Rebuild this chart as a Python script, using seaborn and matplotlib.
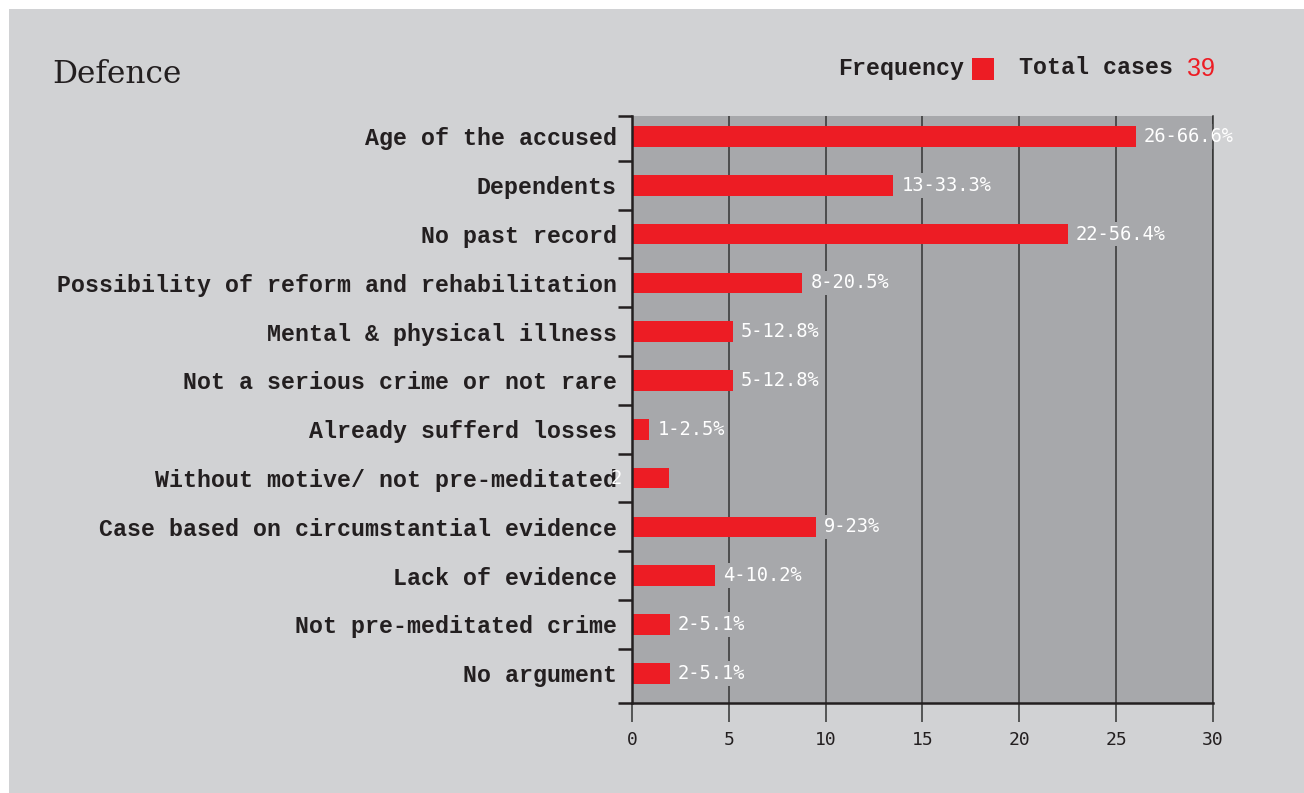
import matplotlib
matplotlib.use("Agg")
import matplotlib.pyplot as plt
import seaborn as sns
import pandas as pd
from matplotlib.patches import Rectangle

# ---------------- data ----------------
categories = [
    "Age of the accused",
    "Dependents",
    "No past record",
    "Possibility of reform and rehabilitation",
    "Mental & physical illness",
    "Not a serious crime or not rare",
    "Already sufferd losses",
    "Without motive/ not pre-meditated",
    "Case based on circumstantial evidence",
    "Lack of evidence",
    "Not pre-meditated crime",
    "No argument",
]
frequency = [26, 13.5, 22.5, 8.8, 5.2, 5.2, 0.9, 1.9, 9.5, 4.3, 1.95, 1.95]
value_labels = ["26-66.6%", "13-33.3%", "22-56.4%", "8-20.5%", "5-12.8%", "5-12.8%",
                "1-2.5%", "2", "9-23%", "4-10.2%", "2-5.1%", "2-5.1%"]
x_ticks = [0, 5, 10, 15, 20, 25, 30]
title = "Defence"
legend_label = "Frequency"
total_label = "Total cases"
total_cases = 39

# ---------------- style ----------------
BG = "#d1d2d4"
PLOT = "#a7a8ab"
RED = "#ed1c24"
INK = "#231f20"
GRID = "#333333"
MONO = "Liberation Mono"
LAB_SIZE = 16.75

W, H = 1304, 793
fig = plt.figure(figsize=(W / 100, H / 100), dpi=100, facecolor="white")
fig.patches.append(Rectangle((9 / W, 0), 1 - 9 / W, 1 - 9 / H, transform=fig.transFigure,
                             facecolor=BG, edgecolor="none", zorder=-10))

L, R, T, B = 632, 1213, 116, 703
ax = fig.add_axes([L / W, 1 - B / H, (R - L) / W, (B - T) / H])
ax.set_zorder(1)
ax.set_facecolor(PLOT)

df = pd.DataFrame({"category": categories, "frequency": frequency})
sns.barplot(data=df, x="frequency", y="category", orient="h", color=RED,
            saturation=1, width=0.424, linewidth=0, ax=ax, zorder=2)

ax.set_xlim(0, 30)
y_top, y_bot = -0.42, 11.61
ax.set_ylim(y_bot, y_top)
ax.set_xlabel("")
ax.set_ylabel("")

# spines
ax.spines["top"].set_visible(False)
ax.spines["left"].set_color(INK)
ax.spines["left"].set_linewidth(1.8)
ax.spines["bottom"].set_color(INK)
ax.spines["bottom"].set_linewidth(1.8)
ax.spines["right"].set_color(GRID)
ax.spines["right"].set_linewidth(1.1)
for s in ax.spines.values():
    s.set_zorder(5)

# grid
ax.set_xticks(x_ticks)
ax.grid(True, axis="x", color=GRID, linewidth=1.1)
ax.grid(False, axis="y")
ax.set_axisbelow("line")
ax.tick_params(axis="x", direction="out", length=14, width=1.1, color=GRID, pad=6,
               labelsize=13, labelcolor=INK)
for lab in ax.get_xticklabels():
    lab.set_fontfamily("DejaVu Sans Mono")

# y ticks: boundary marks (major) and category labels (minor)
bounds = [y_top] + [i + 0.5 for i in range(len(categories) - 1)] + [y_bot]
ax.set_yticks(bounds, labels=[""] * len(bounds))
ax.set_yticks(range(len(categories)), labels=categories, minor=True)
ax.tick_params(axis="y", which="major", direction="out", length=10, width=1.8, color=INK)
ax.tick_params(axis="y", which="minor", length=0, pad=11, labelsize=LAB_SIZE, labelcolor=INK)
for lab in ax.get_yticklabels(minor=True):
    lab.set_fontfamily(MONO)
    lab.set_fontweight("bold")

# value labels
for i, (v, txt) in enumerate(zip(frequency, value_labels)):
    if txt == "2":
        ax.text(-0.8, i, txt, ha="center", va="center", color="white",
                fontsize=13.5, family="DejaVu Sans Mono", clip_on=False, zorder=6)
        continue
    x = v + 0.41
    ax.text(x, i, txt, ha="left", va="center", color="none", fontsize=13.5,
            family="DejaVu Sans Mono", zorder=3, clip_on=True,
            bbox=dict(boxstyle="square,pad=0.15", fc=PLOT, ec="none"))
    ax.text(x, i, txt, ha="left", va="center", color="white", fontsize=13.5,
            family="DejaVu Sans Mono", zorder=6, clip_on=False)

# title
fig.text(52 / W, 1 - 83 / H, title, ha="left", va="baseline", fontsize=22.5,
         family="DejaVu Serif", color=INK)

# legend
fig.text(838 / W, 1 - 68 / H, legend_label, ha="left", va="center", fontsize=LAB_SIZE,
         family=MONO, fontweight="bold", color=INK)
fig.patches.append(Rectangle((972 / W, 1 - 80 / H), 22 / W, 22 / H, transform=fig.transFigure,
                             facecolor=RED, edgecolor="none", zorder=3))
fig.text(1019 / W, 1 - 68 / H, total_label, ha="left", va="center", fontsize=LAB_SIZE,
         family=MONO, fontweight="bold", color=INK)
fig.text(1187 / W, 1 - 69 / H, str(total_cases), ha="left", va="center", fontsize=18,
         family="Liberation Sans", color=RED)

fig.savefig("out.png", dpi=100, facecolor="white")
